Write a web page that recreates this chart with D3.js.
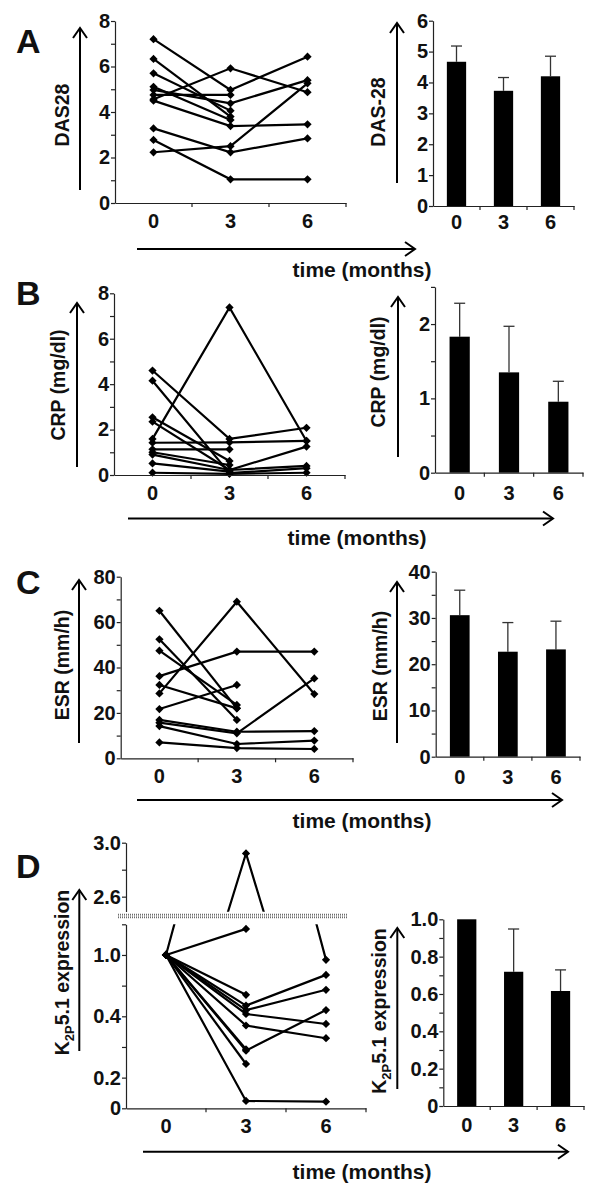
<!DOCTYPE html>
<html><head><meta charset="utf-8">
<script src="https://cdn.jsdelivr.net/npm/d3@7"></script>
<style>
body{margin:0;background:#fff;}
svg{display:block;background:#fff;}
text{font-family:"Liberation Sans",Arial,sans-serif;font-weight:bold;fill:#111;}
</style></head><body>
<svg id="chart" width="600" height="1193"></svg>
<script>
// ---------- DATA ----------
const timeLabels = ["0", "3", "6"];
const timeTitle = "time (months)";

// A: DAS28
const das28Patients = [
  [7.2, 4.97, 6.43],
  [6.33, 3.8, null],
  [5.7, 4.06, null],
  [5.11, 3.65, null],
  [4.97, 4.38, 5.4],
  [4.75, 4.75, null],
  [4.56, 5.92, 4.87],
  [4.5, 3.38, 3.46],
  [3.28, 2.23, 2.84],
  [2.77, 1.04, 1.04],
  [2.23, 2.5, 5.26]
];
const das28Mean = [4.67, 3.73, 4.2];
const das28SD = [0.51, 0.43, 0.65];
const das28LeftTicks = [0, 1, 2, 3, 4, 5, 6, 7, 8];
const das28LeftTickLabels = ["0", "", "2", "", "4", "", "6", "", "8"];
const das28RightTicks = [0, 1, 2, 3, 4, 5, 6];
const das28RightTickLabels = ["0", "1", "2", "3", "4", "5", "6"];

// B: CRP
const crpPatients = [
  [4.6, 1.59, 2.08],
  [4.15, 0.08, 0.3],
  [2.54, 0.62, null],
  [2.35, 0.22, 1.25],
  [1.59, 7.38, 1.5],
  [1.42, 1.44, 1.5],
  [1.13, 1.13, null],
  [1.0, 0.44, null],
  [0.9, 0.22, 0.4],
  [0.51, 0.15, null],
  [0.1, 0.05, 0.1]
];
const crpMean = [1.83, 1.35, 0.955];
const crpSD = [0.45, 0.62, 0.275];
const crpLeftTicks = [0, 1, 2, 3, 4, 5, 6, 7, 8];
const crpLeftTickLabels = ["0", "", "2", "", "4", "", "6", "", "8"];
const crpRightTicks = [0, 0.5, 1, 1.5, 2, 2.5];
const crpRightTickLabels = ["0", "", "1", "", "2", ""];

// C: ESR
const esrPatients = [
  [65, 22, null],
  [52.4, 16.9, null],
  [47.4, 23.5, null],
  [36.2, 47, 47],
  [32.3, 22, null],
  [28.6, 69, 28.3],
  [21.7, 32.3, null],
  [16.9, 11.7, 12],
  [15.7, 11, 35.2],
  [14.2, 6.3, 7.8],
  [7, 4.5, 4.1]
];
const esrMean = [30.6, 22.7, 23.2];
const esrSD = [5.4, 6.3, 6.1];
const esrLeftTicks = [0, 10, 20, 30, 40, 50, 60, 70, 80];
const esrLeftTickLabels = ["0", "", "20", "", "40", "", "60", "", "80"];
const esrRightTicks = [0, 5, 10, 15, 20, 25, 30, 35, 40];
const esrRightTickLabels = ["0", "", "10", "", "20", "", "30", "", "40"];

// D: K2P5.1 expression
const k2pPatients = [
  [1, 2.92, 0.968],
  [1, 1.17, null],
  [1, 0.74, null],
  [1, 0.67, 0.87],
  [1, 0.64, 0.773],
  [1, 0.615, 0.55],
  [1, 0.54, 0.457],
  [1, 0.385, null],
  [1, 0.376, 0.641],
  [1, 0.289, null],
  [1, 0.048, 0.043]
];
const k2pMean = [1.0, 0.719, 0.616];
const k2pSD = [0, 0.229, 0.113];
const k2pLowTicks = [0, 0.2, 0.4, 0.6, 0.8, 1.0, 1.2];
const k2pLowTickLabels = ["0", "0.2", "", "0.4", "", "1.0", ""];
const k2pUpTicks = [2.6, 2.8, 3.0];
const k2pUpTickLabels = ["2.6", "", "3.0"];
const k2pRightTicks = [0, 0.1, 0.2, 0.3, 0.4, 0.5, 0.6, 0.7, 0.8, 0.9, 1.0];
const k2pRightTickLabels = ["0", "", "0.2", "", "0.4", "", "0.6", "", "0.8", "", "1.0"];

// ---------- DRAWING ----------
const svg = d3.select("#chart");
const AX = "#222";
const FONT = '"Liberation Sans",Arial,sans-serif';
const diamond = d3.symbol(d3.symbolSquare, 34);

function yAxis(x, scale, ticks, labels) {
  const g = svg.append("g").attr("transform", `translate(${x},0)`)
    .call(d3.axisLeft(scale).tickValues(ticks).tickFormat((d, i) => labels[i])
      .tickSize(4).tickSizeOuter(0).tickPadding(1));
  g.select(".domain").attr("stroke", AX).attr("stroke-width", 1.2);
  g.selectAll(".tick line").attr("stroke", AX).attr("stroke-width", 1.2);
  g.selectAll("text").attr("font-size", 20).attr("fill", "#111")
    .attr("font-family", FONT).attr("font-weight", "bold");
  return g;
}

function xAxis(x, yPos, pad) {
  const g = svg.append("g").attr("transform", `translate(0,${yPos})`)
    .call(d3.axisBottom(x).tickSize(0).tickPadding(pad));
  g.select(".domain").attr("stroke", AX).attr("stroke-width", 1.2);
  g.selectAll("text").attr("font-size", 20).attr("fill", "#111")
    .attr("font-family", FONT).attr("font-weight", "bold");
  const bounds = x.domain().map(d => x(d) + x.bandwidth());
  svg.append("g").selectAll("line").data(bounds).join("line")
    .attr("x1", d => d).attr("x2", d => d).attr("y1", yPos).attr("y2", yPos + 4)
    .attr("stroke", AX).attr("stroke-width", 1.2);
}

function yLabel(x, y, txt, sub) {
  const t = svg.append("text").attr("transform", `translate(${x},${y}) rotate(-90)`)
    .attr("text-anchor", "middle").attr("dy", "0.35em").attr("font-size", 19.5);
  if (sub) {
    t.append("tspan").text(txt[0]);
    t.append("tspan").text(sub).attr("font-size", 13).attr("dy", 5);
    t.append("tspan").text(txt[1]).attr("dy", -5);
  } else t.text(txt);
}

function vArrow(x, y1, y2) {
  svg.append("line").attr("x1", x).attr("x2", x).attr("y1", y1).attr("y2", y2)
    .attr("stroke", "#000").attr("stroke-width", 2);
  svg.append("path").attr("d", `M${x - 7},${y2 + 10}L${x},${y2}L${x + 7},${y2 + 10}`)
    .attr("fill", "none").attr("stroke", "#000").attr("stroke-width", 2);
}
function hArrow(y, x1, x2) {
  svg.append("line").attr("x1", x1).attr("x2", x2).attr("y1", y).attr("y2", y)
    .attr("stroke", "#000").attr("stroke-width", 2);
  svg.append("path").attr("d", `M${x2 - 10},${y - 7}L${x2},${y}L${x2 - 10},${y + 7}`)
    .attr("fill", "none").attr("stroke", "#000").attr("stroke-width", 2);
}
function panelLetter(x, y, L) {
  svg.append("text").attr("x", x).attr("y", y).attr("font-size", 34).text(L);
}
function timeText(x, y) {
  svg.append("text").attr("x", x).attr("y", y).attr("text-anchor", "middle")
    .attr("font-size", 21).text(timeTitle);
}

function drawSeries(x, y, series, clipId, keep) {
  const cx = d => x(d) + x.bandwidth() / 2;
  const g = svg.append("g");
  if (clipId) g.attr("clip-path", `url(#${clipId})`);
  const line = d3.line().defined(d => d != null)
    .x((d, i) => cx(timeLabels[i])).y(d => y(d));
  g.selectAll("path.s").data(series).join("path").attr("class", "s")
    .attr("d", line).attr("fill", "none").attr("stroke", "#000").attr("stroke-width", 2.2);
  const pts = [];
  series.forEach(s => s.forEach((v, i) => { if (v != null && (!keep || keep(v))) pts.push([i, v]); }));
  g.selectAll("path.m").data(pts).join("path").attr("class", "m")
    .attr("d", diamond)
    .attr("transform", d => `translate(${cx(timeLabels[d[0]])},${y(d[1])}) rotate(45)`)
    .attr("fill", "#000");
}

function linePanel(o) {
  const x = d3.scaleBand().domain(timeLabels).range(o.xr).padding(0);
  const y = d3.scaleLinear().domain([o.ticks[0], o.ticks[o.ticks.length - 1]]).range(o.yr);
  drawSeries(x, y, o.series);
  yAxis(o.xr[0], y, o.ticks, o.labels);
  xAxis(x, o.yr[0], o.pad);
}

function barPanel(o) {
  const x = d3.scaleBand().domain(timeLabels).range(o.xr).padding(0);
  const y = d3.scaleLinear().domain([o.ticks[0], o.ticks[o.ticks.length - 1]]).range(o.yr);
  const bw = x.bandwidth() * 0.41;
  const cx = i => x(timeLabels[i]) + x.bandwidth() / 2;
  const eb = svg.append("g");
  o.mean.forEach((m, i) => {
    if (o.sd[i] > 0) {
      eb.append("line").attr("x1", cx(i)).attr("x2", cx(i)).attr("y1", y(m)).attr("y2", y(m + o.sd[i]))
        .attr("stroke", "#333").attr("stroke-width", 1.3);
      eb.append("line").attr("x1", cx(i) - 5.5).attr("x2", cx(i) + 5.5)
        .attr("y1", y(m + o.sd[i])).attr("y2", y(m + o.sd[i]))
        .attr("stroke", "#333").attr("stroke-width", 1.3);
    }
  });
  svg.append("g").selectAll("rect").data(o.mean).join("rect")
    .attr("x", (d, i) => cx(i) - bw / 2).attr("width", bw)
    .attr("y", d => y(d)).attr("height", d => y(0) - y(d)).attr("fill", "#000");
  yAxis(o.xr[0], y, o.ticks, o.labels);
  xAxis(x, o.yr[0], o.pad);
}

// ---- Panel A ----
panelLetter(16, 53, "A");
linePanel({ xr: [115, 346], yr: [203, 21], ticks: das28LeftTicks, labels: das28LeftTickLabels, series: das28Patients, pad: 11 });
barPanel({ xr: [433, 574], yr: [206, 20.7], ticks: das28RightTicks, labels: das28RightTickLabels, mean: das28Mean, sd: das28SD, pad: 9 });
yLabel(62, 115, "DAS28"); vArrow(80, 190, 28);
yLabel(378, 112, "DAS-28"); vArrow(397, 183, 23);
hArrow(249, 137, 415); timeText(362, 277);

// ---- Panel B ----
panelLetter(16, 305, "B");
linePanel({ xr: [114, 345], yr: [475, 293.3], ticks: crpLeftTicks, labels: crpLeftTickLabels, series: crpPatients, pad: 11 });
barPanel({ xr: [435, 583], yr: [472.7, 286.9], ticks: crpRightTicks, labels: crpRightTickLabels, mean: crpMean, sd: crpSD, pad: 13 });
yLabel(58, 385, "CRP (mg/dl)"); vArrow(77, 467, 303);
yLabel(378, 372, "CRP (mg/dl)"); vArrow(398, 457, 297);
hArrow(518.5, 128, 553); timeText(357, 545);

// ---- Panel C ----
panelLetter(16, 594, "C");
linePanel({ xr: [120.7, 353], yr: [758.3, 576.7], ticks: esrLeftTicks, labels: esrLeftTickLabels, series: esrPatients, pad: 11 });
barPanel({ xr: [435.7, 580], yr: [756.7, 571.7], ticks: esrRightTicks, labels: esrRightTickLabels, mean: esrMean, sd: esrSD, pad: 13 });
yLabel(61.7, 665, "ESR (mm/h)"); vArrow(79, 743, 580);
yLabel(380, 666, "ESR (mm/h)"); vArrow(397, 743, 582);
hArrow(800, 137, 562); timeText(362, 828);

// ---- Panel D ----
panelLetter(16, 878, "D");
{
  const xr = [126, 366];
  const x = d3.scaleBand().domain(timeLabels).range(xr).padding(0);
  const yLow = d3.scaleLinear().domain([0, 1.2]).range([1108.3, 924.3]);
  const yUp = d3.scaleLinear().domain([2.49, 3.0]).range([911.5, 842.7]);
  const defs = svg.append("defs");
  defs.append("clipPath").attr("id", "clipLow").append("rect")
    .attr("x", xr[0] - 10).attr("y", 924.3).attr("width", 260).attr("height", 195);
  defs.append("clipPath").attr("id", "clipUp").append("rect")
    .attr("x", xr[0] - 10).attr("y", 835).attr("width", 260).attr("height", 76.7);
  drawSeries(x, yLow, k2pPatients, "clipLow", v => v <= 1.25);
  drawSeries(x, yUp, k2pPatients, "clipUp", v => v >= 2.45);
  yAxis(xr[0], yLow, k2pLowTicks, k2pLowTickLabels);
  yAxis(xr[0], yUp, k2pUpTicks, k2pUpTickLabels);
  xAxis(x, 1108.3, 11);
  [914.3, 916, 917.7].forEach(yy => {
    svg.append("line").attr("x1", 118).attr("x2", 348).attr("y1", yy).attr("y2", yy)
      .attr("stroke", "#333").attr("stroke-width", 0.9).attr("stroke-dasharray", "1,1");
  });
}
barPanel({ xr: [443.3, 584], yr: [1106, 919.3], ticks: k2pRightTicks, labels: k2pRightTickLabels, mean: k2pMean, sd: k2pSD, pad: 12 });
yLabel(61.7, 972.5, ["K", "5.1 expression"], "2P"); vArrow(79.3, 1051, 890);
yLabel(379, 1011, ["K", "5.1 expression"], "2P"); vArrow(397.3, 1089, 928);
hArrow(1151.7, 143, 568); timeText(362, 1179);
</script>
</body></html>
